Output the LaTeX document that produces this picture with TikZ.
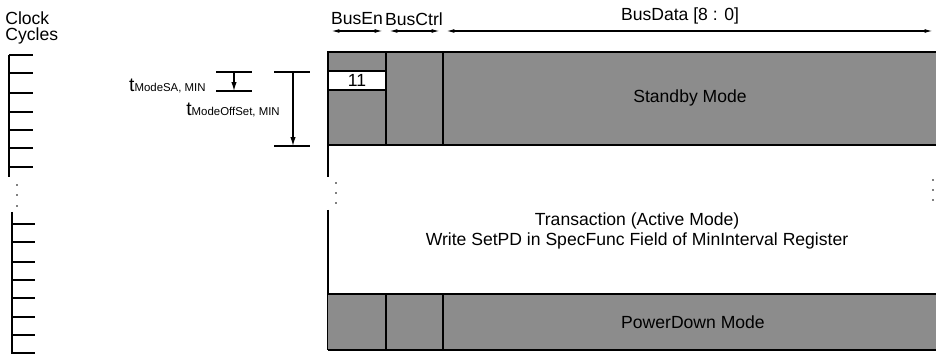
\documentclass[tikz,border=0pt]{standalone}
\usepackage{fontspec}
\setmainfont{Liberation Sans}
\usetikzlibrary{arrows.meta}

\tikzset{
  lbl/.style={font=\fontsize{10}{11.5}\selectfont, inner sep=0pt},
  band/.style={fill=black!45},
  frame/.style={line width=1.6pt},
  hdr/.style={line width=0.6pt, {Latex[length=4.5pt,width=2.2pt]}-{Latex[length=4.5pt,width=2.2pt]}, shorten <=2pt, shorten >=2pt},
  tick/.style={line width=0.9pt},
  dim/.style={line width=0.7pt},
}
\newcommand{\tsub}[1]{{\fontsize{11}{11}\selectfont t}{\fontsize{6.5}{7}\selectfont #1}}

\begin{document}
\begin{tikzpicture}[x=0.02cm,y=-0.02cm]
    \useasboundingbox (0,0) rectangle (936,354);
    % clock cycles
    \node[lbl, font=\fontsize{10}{9.2}\selectfont, anchor=north west, align=left] (clk) at (5,11) {Clock\\Cycles};
    \draw[line width=1.5pt] (9,55) -- (9,177);
    \draw[line width=1.5pt] (9,55) -- (33,55);
    \foreach \y in {73,93,112,130,148,167} \draw[tick] (9,\y) -- (33,\y);
    \foreach \y in {185,195,206} \fill (17,\y) circle (0.8);
    \draw[line width=1.5pt] (12,212) -- (12,354);
    \foreach \y in {224,242,262,280,298,317,335,353} \draw[tick] (12,\y) -- (35,\y);
    % timing brackets
    \coordinate (saTop) at (234,72);
    \coordinate (saBot) at (234,91);
    \draw[dim] (216,72) -- (252,72);
    \draw[dim] (216,91) -- (252,91);
    \draw[dim, -{Latex[length=5pt,width=3pt]}] (saTop) -- (saBot);
    \node[anchor=base east, inner sep=0pt] (tsa) at (206,92) {\tsub{ModeSA, MIN}};
    \coordinate (offTop) at (293,72);
    \coordinate (offBot) at (293,146);
    \draw[dim] (274,72) -- (310,72);
    \draw[dim] (274,146) -- (310,146);
    \draw[dim, -{Latex[length=5pt,width=3pt]}] (offTop) -- (offBot);
    \node[anchor=base west, inner sep=0pt] (toff) at (186,116) {\tsub{ModeOffSet, MIN}};
    % header
    \coordinate (h0) at (328,31);
    \coordinate (h1) at (386,31);
    \coordinate (h2) at (443,31);
    \coordinate (h3) at (936,31);
    \draw[hdr] (h0) -- (h1);
    \draw[hdr] (h1) -- (h2);
    \draw[hdr] (h2) -- (h3);
    \node[lbl] (busen) at (357,19) {BusEn};
    \node[lbl] (busctrl) at (414,19) {BusCtrl};
    \node[lbl] (busdata) at (680,16) {BusData [8 : 0]};
    % standby band
    \fill[band] (328,52) rectangle (936,145);
    \draw[frame] (936,52) -- (328,52) -- (328,177);
    \draw[frame] (328,145) -- (936,145);
    \draw[frame] (386,52) -- (386,145);
    \draw[frame] (443,52) -- (443,145);
    \draw[line width=0.6pt, fill=white] (328,71) rectangle (386,90);
    \node[lbl] (enval) at (357,80.5) {11};
    \node[lbl] (standby) at (690,98) {Standby Mode};
    % transaction
    \foreach \y in {183,193,203} \fill (336,\y) circle (0.8);
    \foreach \y in {180,190,200} \fill (933,\y) circle (0.8);
    \draw[frame] (328,210) -- (328,350);
    \node[lbl, align=center] (trans) at (637,231) {Transaction (Active Mode)\\Write SetPD in SpecFunc Field of MinInterval Register};
    % powerdown band
    \fill[band] (328,294) rectangle (936,350);
    \draw[frame] (328,294) -- (936,294);
    \draw[frame] (328,350) -- (936,350);
    \draw[frame] (386,294) -- (386,350);
    \draw[frame] (443,294) -- (443,350);
    \node[lbl] (powerdown) at (693,322) {PowerDown Mode};
\end{tikzpicture}
\end{document}
